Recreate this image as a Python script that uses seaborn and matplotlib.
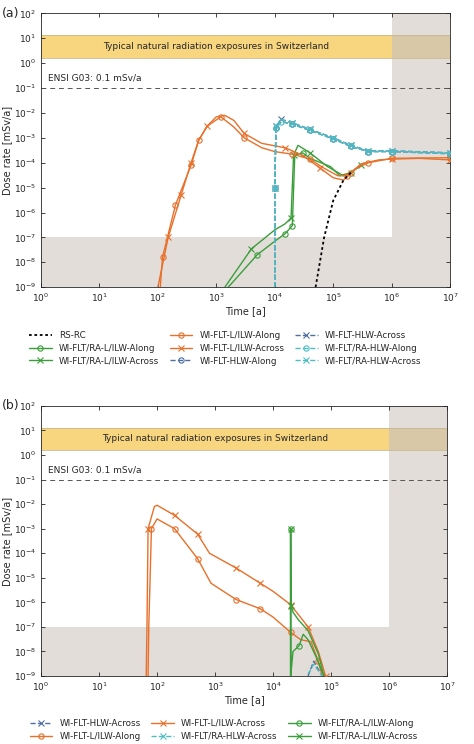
import numpy as np
import matplotlib
matplotlib.use("Agg")
import matplotlib.pyplot as plt
import seaborn as sns

# ---- data ----
# panel (a)
a_rsrc_t = [5e4, 7e4, 1e5, 1.5e5, 2e5]
a_rsrc_d = [1e-9, 1e-7, 3e-6, 2e-5, 4e-5]

a_lilw_across_t = [1e2, 1.5e2, 2.5e2, 3.7e2, 5e2, 7e2, 1e3, 1.4e3, 2e3, 3e3, 6e3, 1.5e4, 3e4, 6e4, 1e5, 1.5e5, 2e5, 3e5, 6e5, 1e6, 3e6, 1e7]
a_lilw_across_d = [1e-9, 1e-7, 5e-6, 1e-4, 8e-4, 3e-3, 7e-3, 8e-3, 5e-3, 1.5e-3, 6e-4, 4e-4, 2e-4, 6e-5, 2.5e-5, 2e-5, 4e-5, 9e-5, 1.3e-4, 1.4e-4, 1.5e-4, 1.3e-4]
a_lilw_along_t = [1.1e2, 1.2e2, 2e2, 3.7e2, 5e2, 7e2, 1.2e3, 2e3, 3e3, 6e3, 1e4, 2e4, 4e4, 7e4, 1.2e5, 1.7e5, 2.5e5, 4e5, 1e6, 1e7]
a_lilw_along_d = [1e-9, 1.6e-8, 2e-6, 8e-5, 8e-4, 3e-3, 7e-3, 2.7e-3, 1e-3, 4e-4, 2.8e-4, 2.2e-4, 1.4e-4, 6e-5, 3e-5, 3e-5, 6e-5, 1e-4, 1.5e-4, 1.6e-4]

a_ra_lilw_across_t = [1.4e3, 4e3, 1e4, 1.5e4, 1.9e4, 2.1e4, 2.5e4, 4e4, 8e4, 1.5e5, 2e5, 3e5]
a_ra_lilw_across_d = [1e-9, 3.5e-8, 2e-7, 3.5e-7, 6e-7, 2e-4, 5e-4, 2.5e-4, 7e-5, 3e-5, 4e-5, 8e-5]
a_ra_lilw_along_t = [1.6e3, 5e3, 1e4, 1.5e4, 2e4, 2.2e4, 3e4, 4e4, 9e4, 1.3e5, 2e5, 3e5]
a_ra_lilw_along_d = [1e-9, 2e-8, 7e-8, 1.4e-7, 3e-7, 2e-4, 2.5e-4, 1.5e-4, 7e-5, 3e-5, 4e-5, 8e-5]

a_hlw_t = [1e4, 1.0e4, 1.05e4, 1.3e4, 2e4, 4e4, 1e5, 2e5, 4e5, 1e6, 1e7]
a_hlw_across_d = [1e-9, 1e-5, 3e-3, 5.5e-3, 4e-3, 2.2e-3, 1e-3, 5e-4, 3e-4, 3e-4, 2.5e-4]
a_hlw_along_d = [1e-9, 1e-5, 2.5e-3, 4.5e-3, 3.5e-3, 2e-3, 9e-4, 4.5e-4, 2.8e-4, 2.8e-4, 2.3e-4]

# panel (b)
b_lilw_across_t = [65, 67, 70, 90, 100, 200, 500, 8e2, 2.3e3, 6e3, 1e4, 2e4, 4e4, 6e4, 8e4]
b_lilw_across_d = [1e-9, 1e-7, 1e-3, 8e-3, 9e-3, 3.5e-3, 6e-4, 1e-4, 2.5e-5, 6e-6, 2.8e-6, 8e-7, 1e-7, 1e-8, 1e-9]
b_lilw_along_t = [70, 72, 80, 100, 200, 500, 8.5e2, 2.3e3, 6e3, 1e4, 2e4, 3e4, 4.5e4, 6e4, 7e4]
b_lilw_along_d = [1e-9, 1e-7, 1e-3, 2.5e-3, 1e-3, 6e-5, 6e-6, 1.3e-6, 5.5e-7, 2.5e-7, 6e-8, 3e-8, 2.5e-8, 4e-9, 1e-9]
b_ra_along_t = [2e4, 2.0e4, 2.01e4, 2.2e4, 2.8e4, 3.3e4, 4e4, 5.5e4, 7.5e4]
b_ra_along_d = [1e-9, 1e-3, 1e-9, 1e-8, 1.7e-8, 5e-8, 3e-8, 6e-9, 1e-9]
b_ra_across_t = [2e4, 2.0e4, 2.05e4, 2.2e4, 2.7e4, 4e4, 6e4, 7.5e4]
b_ra_across_d = [1e-9, 1e-3, 7e-7, 4e-7, 2e-7, 7e-8, 8e-9, 1e-9]
b_hlw_t = [4e4, 5e4, 7e4]
b_hlw_across_d = [1e-9, 4e-9, 1e-9]
b_ra_hlw_across_d = [1.2e-9, 3e-9, 1e-9]

ORANGE = '#E8702A'
GREEN = '#3A9E3A'
BLUE = '#4F6FA0'
CYAN = '#4DBDC4'

sns.set_style("ticks")
plt.rcParams['font.family'] = ['DejaVu Sans']

fig = plt.figure(figsize=(4.74, 7.44), dpi=100)
axa = fig.add_axes([0.0865, 0.614, 0.863, 0.368])
axb = fig.add_axes([0.0865, 0.0914, 0.857, 0.363])


def style_axis(ax, label):
    ax.set_xscale('log')
    ax.set_yscale('log')
    ax.set_xlim(1, 1e7)
    ax.set_ylim(1e-9, 1e2)
    ax.axhspan(1e-9, 1e-7, color='#E2DDD9', lw=0, zorder=0)
    ax.axvspan(1e6, 1e7, ymin=2 / 11, color='#E2DDD9', lw=0, zorder=0)
    ax.axhspan(1.6, 13, color='#F8D680', lw=0, zorder=0.5)
    ax.axhspan(1.6, 13, xmin=6 / 7, color='#D9C8A8', lw=0, zorder=0.6)
    ax.axhline(13, color='#C8B890', lw=0.6, zorder=0.7)
    ax.axhline(1.6, color='#C8B890', lw=0.6, zorder=0.7)
    ax.text(1e3, 4.5, 'Typical natural radiation exposures in Switzerland',
            ha='center', va='center', fontsize=6.5)
    ax.axhline(0.1, color='#555555', ls=(0, (5, 4)), lw=0.7)
    ax.text(1.3, 0.16, 'ENSI G03: 0.1 mSv/a', fontsize=6.5, va='bottom')
    ax.set_xticks([10.0 ** k for k in range(0, 8)])
    ax.set_yticks([10.0 ** k for k in range(-9, 3)])
    ax.minorticks_off()
    ax.tick_params(direction='in', top=True, right=True, labelsize=6.5, length=3, width=0.6)
    ax.set_xlabel('Time [a]', fontsize=7, labelpad=1)
    ax.set_ylabel('Dose rate [mSv/a]', fontsize=7, labelpad=1)
    for s in ax.spines.values():
        s.set_linewidth(0.6)
    pos = ax.get_position()
    fig.text(0.005, pos.y1, label, fontsize=9, va='center', ha='left')


def line(ax, t, d, color, marker, label, ls='-', mev=(0.05, 0.1)):
    ax.plot(t, d, color=color, ls=ls, lw=1.0, marker=marker, ms=3.8,
            mfc='none', mew=0.8, markevery=mev, label=label, zorder=3)


style_axis(axa, '(a)')
axa.plot(a_rsrc_t, a_rsrc_d, color='black', ls=(0, (1.5, 1.5)), lw=1.3, label='RS-RC', zorder=4)
line(axa, a_ra_lilw_along_t, a_ra_lilw_along_d, GREEN, 'o', 'WI-FLT/RA-L/ILW-Along')
line(axa, a_ra_lilw_across_t, a_ra_lilw_across_d, GREEN, 'x', 'WI-FLT/RA-L/ILW-Across', mev=(0.09, 0.1))
line(axa, a_lilw_along_t, a_lilw_along_d, ORANGE, 'o', 'WI-FLT-L/ILW-Along', mev=(0.04, 0.07))
line(axa, a_lilw_across_t, a_lilw_across_d, ORANGE, 'x', 'WI-FLT-L/ILW-Across', mev=(0.07, 0.09))
line(axa, a_hlw_t, a_hlw_along_d, BLUE, 'o', 'WI-FLT-HLW-Along', ls='--', mev=(0.12, 0.04))
line(axa, a_hlw_t, a_hlw_across_d, BLUE, 'x', 'WI-FLT-HLW-Across', ls='--', mev=(0.14, 0.04))
line(axa, a_hlw_t, a_hlw_along_d, CYAN, 'o', 'WI-FLT/RA-HLW-Along', ls='--', mev=(0.13, 0.035))
line(axa, a_hlw_t, a_hlw_across_d, CYAN, 'x', 'WI-FLT/RA-HLW-Across', ls='--', mev=(0.15, 0.03))
axa.legend(loc='upper center', bbox_to_anchor=(0.45, -0.13), ncol=3, frameon=False,
           fontsize=6.3, handlelength=2.6, columnspacing=1.2, labelspacing=0.45)

style_axis(axb, '(b)')
line(axb, b_hlw_t, b_hlw_across_d, BLUE, 'x', 'WI-FLT-HLW-Across', ls='--', mev=(0.5, 0.5))
line(axb, b_lilw_along_t, b_lilw_along_d, ORANGE, 'o', 'WI-FLT-L/ILW-Along', mev=(0.3, 0.08))
line(axb, b_lilw_across_t, b_lilw_across_d, ORANGE, 'x', 'WI-FLT-L/ILW-Across', mev=(0.3, 0.08))
line(axb, b_hlw_t, b_ra_hlw_across_d, CYAN, 'x', 'WI-FLT/RA-HLW-Across', ls='--', mev=(0.5, 0.5))
line(axb, b_ra_along_t, b_ra_along_d, GREEN, 'o', 'WI-FLT/RA-L/ILW-Along', mev=(0.18, 0.25))
line(axb, b_ra_across_t, b_ra_across_d, GREEN, 'x', 'WI-FLT/RA-L/ILW-Across', mev=(0.2, 0.25))
axb.legend(loc='upper center', bbox_to_anchor=(0.45, -0.13), ncol=3, frameon=False,
           fontsize=6.3, handlelength=2.6, columnspacing=1.2, labelspacing=0.45)

fig.savefig('out.png', dpi=100)
